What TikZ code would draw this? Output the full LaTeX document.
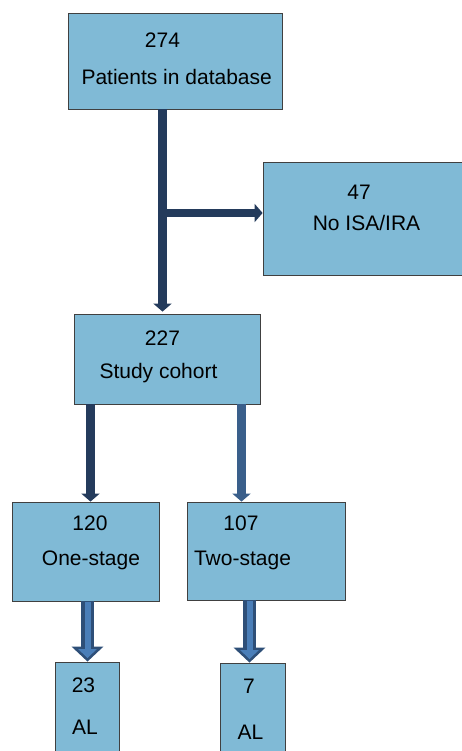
\documentclass[tikz,border=0pt]{standalone}
\usepackage{fontspec}
\setmainfont{Liberation Sans}
\usetikzlibrary{arrows.meta}
\definecolor{boxblue}{RGB}{128,186,214}
\definecolor{navy}{RGB}{36,59,92}
\definecolor{steel}{RGB}{58,95,139}
\definecolor{blockdark}{RGB}{46,79,120}
\definecolor{blocklight}{RGB}{74,126,184}
\begin{document}
\begin{tikzpicture}[x = 1pt, y = -1pt,
        box/.style = {draw = black!75, line width = 0.8pt, fill = boxblue, inner sep = 0pt},
        txt/.style = {anchor = base, font = \fontsize{21}{25}\selectfont},
        flow/.style = {line width = 8.5pt, -{Triangle[width = 18pt, length = 8pt]}},
        blockout/.style = {blockdark, line width = 13pt, -{Triangle[width = 31pt, length = 15pt]}},
        blockin/.style = {blocklight, line width = 6pt, -{Triangle[width = 18pt, length = 9pt]}, shorten > = 3.5pt, shorten < = 1pt}]
        \useasboundingbox (0,0) rectangle (462,751);
        % boxes
        \node[box, minimum width = 214pt, minimum height = 96pt] (db) at (175,61) {};
        \node[box, minimum width = 203pt, minimum height = 113pt] (noisa) at (364.5,218.5) {};
        \node[box, minimum width = 186pt, minimum height = 90pt] (cohort) at (167.5,359) {};
        \node[box, minimum width = 147pt, minimum height = 99pt] (one) at (85.5,551.5) {};
        \node[box, minimum width = 158pt, minimum height = 98pt] (two) at (266,551) {};
        \node[box, minimum width = 64pt, minimum height = 98pt] (al1) at (87,711) {};
        \node[box, minimum width = 65pt, minimum height = 97pt] (al2) at (252.5,711.5) {};
        % texts
        \node[txt] (dbnum) at (162.5,48) {274};
        \node[txt] (dbtxt) at (176.7,85) {Patients in database};
        \node[txt] (noisanum) at (359,200) {47};
        \node[txt] (noisatxt) at (366.5,230) {No ISA/IRA};
        \node[txt] (cohortnum) at (162.5,345.7) {227};
        \node[txt] (cohorttxt) at (158.5,378) {Study cohort};
        \node[txt] (onenum) at (90,530) {120};
        \node[txt] (onetxt) at (91,565) {One-stage};
        \node[txt] (twonum) at (241,530) {107};
        \node[txt] (twotxt) at (242.5,565) {Two-stage};
        \node[txt] (alonenum) at (83.5,692) {23};
        \node[txt] (alonetxt) at (85,734) {AL};
        \node[txt] (altwonum) at (249,693) {7};
        \node[txt] (altwotxt) at (250.5,739) {AL};
        % arrows
        \coordinate (split) at (162.5,213);
        \draw[flow, navy, shorten > = 2pt] (db.south -| split) -- (cohort.north -| split);
        \draw[flow, navy] (split) -- (noisa.west |- split);
        \draw[flow, navy] ([xshift = -77pt]cohort.south) -- ([xshift = 5pt]one.north);
        \draw[flow, steel] ([xshift = 74pt]cohort.south) -- ([xshift = -24.5pt]two.north);
        \foreach \src/\dst/\dx/\ex in {one/al1/2/0.5, two/al2/-16.5/-3} {
            \draw[blockout] ([xshift = \dx pt]\src.south) -- ([xshift = \ex pt]\dst.north);
            \draw[blockin] ([xshift = \dx pt]\src.south) -- ([xshift = \ex pt]\dst.north);
        }
\end{tikzpicture}
\end{document}
